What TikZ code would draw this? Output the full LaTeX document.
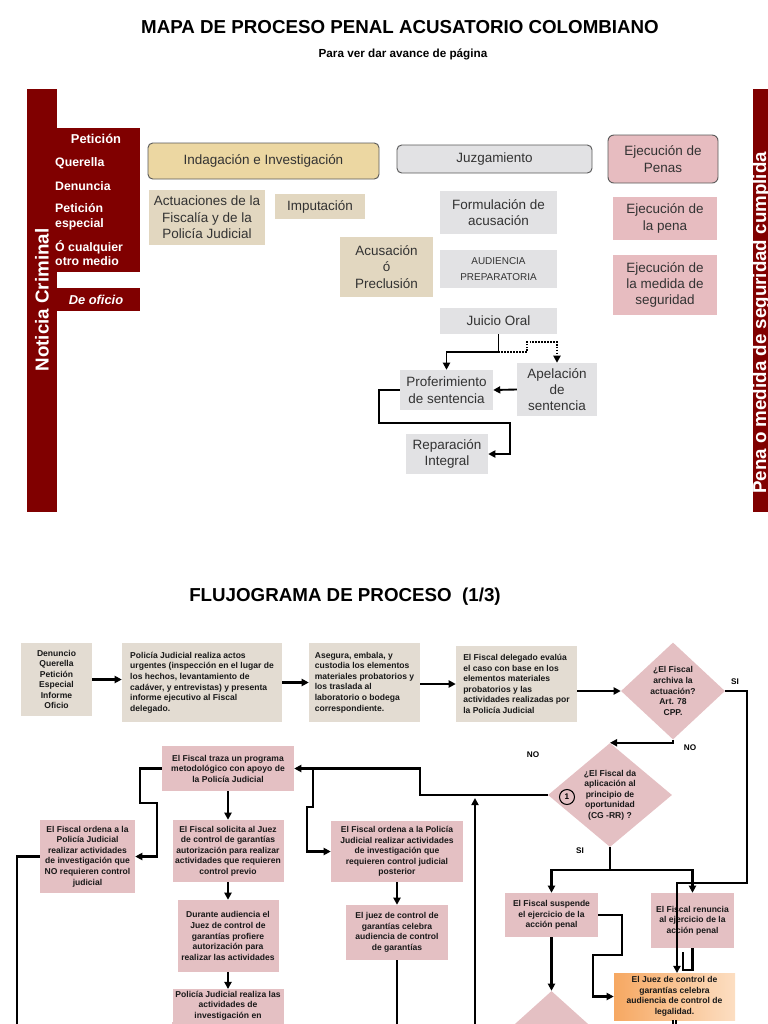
\documentclass[tikz,border=0pt]{standalone}
\usepackage{fontspec}
\setmainfont{Liberation Sans}
\usetikzlibrary{arrows.meta,shapes.geometric}

\definecolor{granate}{RGB}{128,0,0}
\definecolor{oro}{RGB}{236,215,162}
\definecolor{saco}{RGB}{226,215,192}
\definecolor{marmol}{RGB}{226,226,228}
\definecolor{rosado}{RGB}{231,188,192}
\definecolor{crema}{RGB}{227,220,210}
\definecolor{rosafc}{RGB}{228,192,195}
\definecolor{naranjaA}{RGB}{246,168,98}
\definecolor{naranjaB}{RGB}{252,222,194}

\begin{document}
\begin{tikzpicture}[x=0.03cm, y=-0.03cm, >={Triangle[length=6pt, width=6pt]},
  tam/.style 2 args={minimum width={#1*0.03cm}, minimum height={#2*0.03cm}},
  arriba/.style={inner sep=1pt, align=center, text=black!80, font=\fontsize{11.5}{14}\selectfont},
  dorado/.style={arriba, fill=oro, draw=black!65, rounded corners=4pt, line width=0.8pt},
  arpillera/.style={arriba, fill=saco},
  gris/.style={arriba, fill=marmol},
  grisr/.style={gris, draw=black!65, rounded corners=4pt, line width=0.8pt},
  rosa/.style={arriba, fill=rosado},
  rosar/.style={rosa, draw=black!65, rounded corners=5pt, line width=0.8pt},
  blanco/.style={inner sep=0pt, text=white, align=left, anchor=west, font=\fontsize{10.5}{12.5}\selectfont\bfseries},
  flujo/.style={inner sep=2pt, text=black!90, font=\fontsize{7.3}{9}\selectfont\bfseries},
  beige/.style={flujo, fill=crema},
  fcrosa/.style={flujo, fill=rosafc, align=center},
  rombo/.style={fcrosa, diamond, inner sep=0pt},
  etiq/.style={inner sep=0pt, font=\fontsize{7}{8}\selectfont\bfseries},
  fino/.style={line width=1.6pt},
  linea/.style={line width=2.1pt},
  flecha/.style={linea, ->}]

  \useasboundingbox (0,0) rectangle (768,1024);
  \clip (0,0) rectangle (768,1024);

  % Titulos
  \node[font=\fontsize{16}{18}\selectfont\bfseries] (titulo) at (400,27) {MAPA DE PROCESO PENAL ACUSATORIO COLOMBIANO};
  \node[font=\fontsize{10}{12}\selectfont\bfseries] (subtitulo) at (403,54) {Para ver dar avance de página};
  \node[font=\fontsize{16}{18}\selectfont\bfseries] (flujograma) at (345,597) {FLUJOGRAMA DE PROCESO \ (1/3)};

  % Barra izquierda: noticia criminal
  \fill[granate] (27,89) rectangle (57,512);
  \fill[granate] (57,128) rectangle (140,272);
  \fill[granate] (57,288) rectangle (140,311);
  \node[rotate=90, text=white, font=\fontsize{16}{18}\selectfont\bfseries] (noticia) at (42,300) {Noticia Criminal};
  \node[blanco, anchor=center, font=\fontsize{11}{13}\selectfont\bfseries] (peticion) at (96,139) {Petición};
  \node[blanco] (querella) at (55,163) {Querella};
  \node[blanco] (denuncia) at (55,186) {Denuncia};
  \node[blanco] (especial) at (55,216.5) {Petición\\especial};
  \node[blanco] (otro) at (55,253) {Ó cualquier\\otro medio};
  \node[blanco, anchor=center, font=\fontsize{11}{13}\selectfont\bfseries\itshape] (oficio) at (96,300) {De oficio};

  % Barra derecha
  \fill[granate] (753,89) rectangle (770,512);
  \node[rotate=90, anchor=base west, inner sep=0pt, text=white, font=\fontsize{16}{18}\selectfont\bfseries] (cumplida) at (766,494) {Pena o medida de seguridad cumplida};

  % Etapas del proceso
  \node[dorado, tam={231}{36}] (indagacion) at (263.5,161) {Indagación e Investigación};
  \node[grisr, tam={195}{28}] (juzgamiento) at (494.5,159) {Juzgamiento};
  \node[rosar, tam={110}{48}] (penas) at (663,159) {Ejecución de\\Penas};

  \node[arpillera, tam={116}{55}] (actuaciones) at (207,217.5) {Actuaciones de la\\Fiscalía y de la\\Policía Judicial};
  \node[arpillera, tam={90}{25}] (imputacion) at (320,206.5) {Imputación};
  \node[arpillera, tam={93}{60}] (acusacion) at (386.5,267) {Acusación\\ó\\Preclusión};

  \node[gris, tam={117}{43}] (formulacion) at (498.5,212.5) {Formulación de\\acusación};
  \node[gris, tam={117}{38}, font=\fontsize{8.5}{13.5}\selectfont] (audiencia) at (498.5,269) {AUDIENCIA\\PREPARATORIA};
  \node[gris, tam={117}{26}] (juicio) at (498.5,321) {Juicio Oral};
  \node[gris, tam={93}{40}] (proferimiento) at (446.5,390) {Proferimiento\\de sentencia};
  \node[gris, tam={80}{53}] (apelacion) at (557,389.5) {Apelación\\de\\sentencia};
  \node[gris, tam={82}{40}] (reparacion) at (447,454) {Reparación\\Integral};

  \node[rosa, tam={104}{43}] (pena) at (665,218.5) {Ejecución de\\la pena};
  \node[rosa, tam={104}{60}] (medida) at (665,285) {Ejecución de\\la medida de\\seguridad};

  % Conectores del juicio
  \coordinate (bif) at (498.5,352);
  \draw[fino, ->] (juicio.south) -- (bif) -| (proferimiento.north);
  \draw[fino, ->, dash pattern=on 1.5pt off 1pt] (bif) -| (527,342) -| (apelacion.north);
  \draw[fino, ->] (apelacion.west) -- (proferimiento.east);
  \draw[fino, ->] (proferimiento.west) -- (379,390) |- (510,423) |- (reparacion.east);

  % Flujograma: fila superior
  \node[beige, align=center, tam={71}{73}] (noticias) at (56.5,679.5) {Denuncio\\Querella\\Petición\\Especial\\Informe\\Oficio};
  \node[beige, align=left, tam={160}{79}] (urgentes) at (202,682.5) {Policía Judicial realiza actos\\urgentes (inspección en el lugar de\\los hechos, levantamiento de\\cadáver, y entrevistas) y presenta\\informe ejecutivo al Fiscal\\delegado.};
  \node[beige, align=left, tam={111}{79}] (asegura) at (364.5,682.5) {Asegura, embala, y\\custodia los elementos\\materiales probatorios y\\los traslada al\\laboratorio o bodega\\correspondiente.};
  \node[beige, align=left, tam={121}{76}] (evalua) at (516.5,684) {El Fiscal delegado evalúa\\el caso con base en los\\elementos materiales\\probatorios y las\\actividades realizadas por\\la Policía Judicial};
  \node[rombo, tam={104}{97}] (archiva) at (673,691) {¿El Fiscal\\archiva la\\actuación?\\Art. 78\\CPP.};

  \foreach \a/\b in {noticias/urgentes, urgentes/asegura} {
    \draw[flecha] (\a.east) -- (\a.east -| \b.west);
  }
  \draw[flecha] (asegura.east |- evalua.east) -- (evalua.east -| evalua.west);
  \draw[flecha] (evalua.east |- archiva.west) -- (archiva.west);

  % Principio de oportunidad
  \node[rombo, tam={124}{104}] (oportunidad) at (610,795) {¿El Fiscal da\\aplicación al\\principio de\\oportunidad\\(CG -RR) ?};
  \node[circle, draw, line width=0.9pt, inner sep=0pt, minimum size={15*0.03cm}, font=\fontsize{7}{8}\selectfont\bfseries] (uno) at (567,797) {1};

  % Programa metodologico
  \node[fcrosa, tam={132}{45}] (traza) at (228,768.5) {El Fiscal traza un programa\\metodológico con apoyo de\\la Policía Judicial};
  \node[fcrosa, tam={95}{73}] (noreq) at (87.5,856.5) {El Fiscal ordena a la\\Policía Judicial\\realizar actividades\\de investigación que\\NO requieren control\\judicial};
  \node[fcrosa, tam={111}{62}] (solicita) at (228,851) {El Fiscal solicita al Juez\\de control de garantías\\autorización para realizar\\actividades que requieren\\control previo};
  \node[fcrosa, tam={132}{61}] (posterior) at (397,851.5) {El Fiscal ordena a la Policía\\Judicial realizar actividades\\de investigación que\\requieren control judicial\\posterior};
  \node[fcrosa, tam={101}{72}] (durante) at (228,936) {Durante audiencia el\\Juez de control de\\garantías profiere\\autorización para\\realizar las actividades};
  \node[fcrosa, tam={102}{55}] (juezgar) at (397,932.5) {El juez de control de\\garantías celebra\\audiencia de control\\de garantías};
  \node[fcrosa, tam={111}{0}, inner ysep=1.5pt, anchor=north] (realiza) at (228,989) {Policía Judicial realiza las\\actividades de\\investigación en};
  \fill[rosafc] (realiza.south west) rectangle ([yshift=-20pt]realiza.south east);

  % Suspension y renuncia
  \node[fcrosa, tam={93}{44}] (suspende) at (551.5,915) {El Fiscal suspende\\el ejercicio de la\\acción penal};
  \node[fcrosa, tam={83}{55}] (renuncia) at (692.5,920.5) {El Fiscal renuncia\\al ejercicio de la\\acción penal};
  \node[flujo, align=center, left color=naranjaA, right color=naranjaB, tam={121}{47}] (legalidad) at (674.5,996.5) {El Juez de control de\\garantías celebra\\audiencia de control de\\legalidad.};
  \node[rombo, tam={120}{108}] (rombo3) at (551.5,1045) {};

  % Etiquetas SI / NO
  \node[etiq] (si1) at (735,682) {SI};
  \node[etiq] (no1) at (690,748) {NO};
  \node[etiq] (no2) at (533,755) {NO};
  \node[etiq] (si2) at (580,851) {SI};

  % Conectores del flujograma
  \coordinate (siarch) at (747,883);
  \draw[flecha] (archiva.east) -| (siarch) -| (677,973);
  \draw[flecha] (archiva.south) |- (oportunidad.north);
  \draw[flecha] (oportunidad.west) -- (420,795) |- (traza.east);
  \draw[flecha] (313,768.5) -- (313,807) -- (307,807) |- (posterior.west);
  \draw[flecha] (traza.west) -- (140,768.5) -- (140,803) -- (157,803) |- (noreq.east);
  \draw[linea] (noreq.west) -| (17,1030);
  \foreach \a/\b in {traza/solicita, solicita/durante, durante/realiza, posterior/juezgar} {
    \draw[flecha] (\a.south) -- (\b.north);
  }
  \draw[linea] (juezgar.south) -- (397,1030);
  \draw[flecha] (475,1030) -- (475,798);

  \coordinate (sioport) at (610,870);
  \draw[flecha] (oportunidad.south) -- (sioport) -| (suspende.north);
  \draw[flecha] (sioport) -| (renuncia.north);
  \draw[flecha] (suspende.east) -- (622,915) -- (622,955) -- (593,955) |- (legalidad.west);
  \draw[flecha] (suspende.south) -- (rombo3.north);
  \draw[linea] (renuncia.south) |- (683,970) -- (683,952);
  \draw[linea, double distance=1.5pt, line width=1pt] (legalidad.south) -- (674.5,1030);

\end{tikzpicture}
\end{document}
